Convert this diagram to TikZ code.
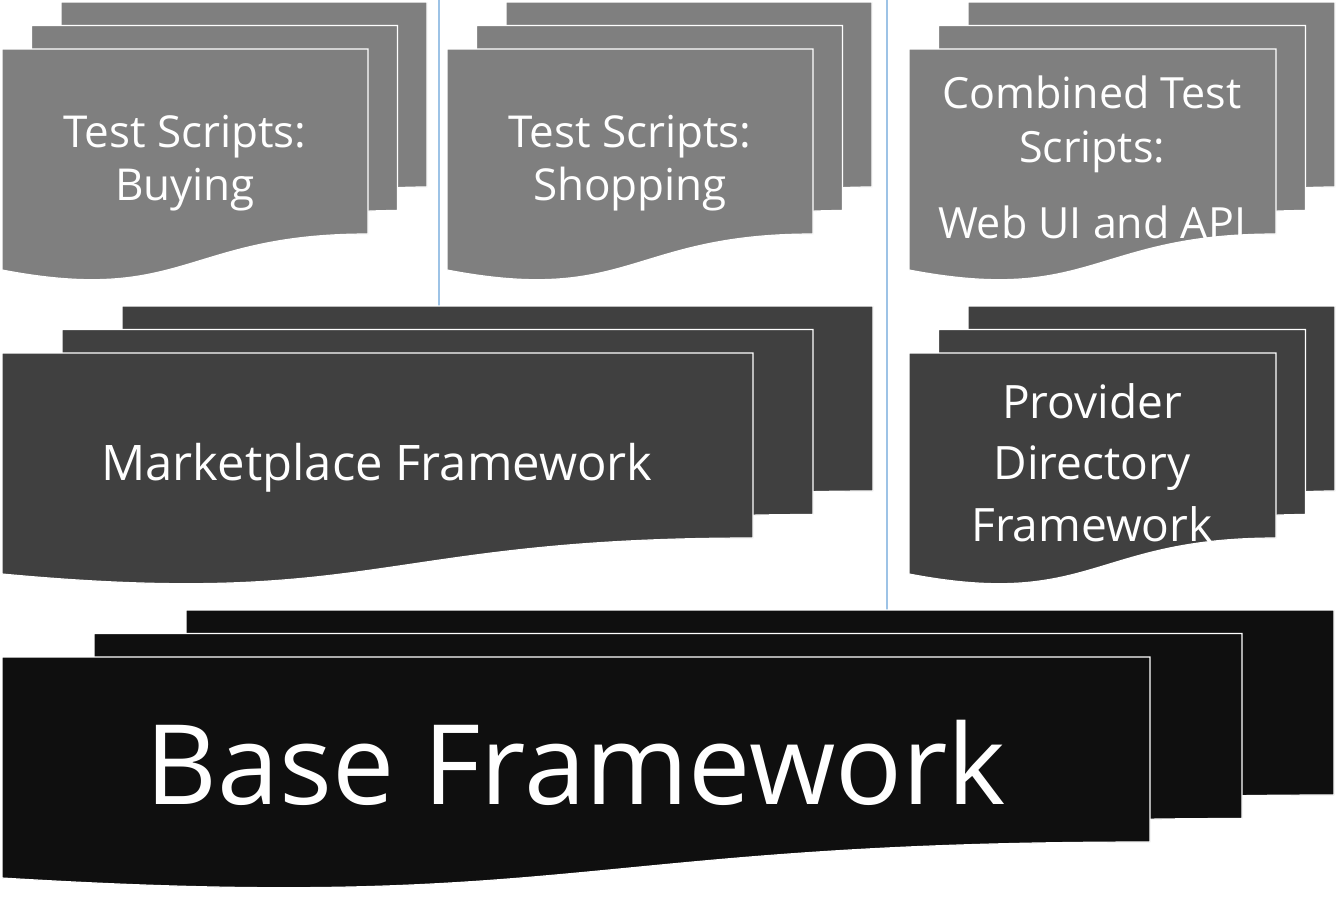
\documentclass[tikz,border=0pt]{standalone}
\usepackage{fontspec}
\setmainfont{Open Sans}
\definecolor{scriptgray}{HTML}{7F7F7F}
\definecolor{framegray}{HTML}{404040}
\definecolor{baseblack}{HTML}{0F0F0F}
\definecolor{guideblue}{RGB}{157,195,230}
\tikzset{
    sheet/.style={draw=white, line width=1.2pt, line join=miter},
    sheetlabel/.style={text=white, align=center, inner sep=0pt, anchor=base},
    guide/.style={guideblue, line width=1.5pt}
}
\begin{document}
\begin{tikzpicture}[x=1pt, y=-1pt]
        \useasboundingbox[fill=white] (0,0) rectangle (1336,919);

        \draw[guide] (439,0) -- (439,306);
        \draw[guide] (887,0) -- (887,610);

        \foreach \gx/\gy/\gw/\gd/\gc in {2/49/366/29.5/scriptgray, 447/49/366/29.5/scriptgray, 909/49/367/29.5/scriptgray, 2/353/751/60/framegray, 909/353/367/29.5/framegray, 2/657/1148/92/baseblack} {
            \foreach \i in {2,1,0} {
                \pgfmathsetmacro\sx{\gx+\gd*\i}
                \pgfmathsetmacro\sy{\gy-23.5*\i}
                \draw[sheet, fill=\gc] (\sx,\sy) -- ++(\gw,0) -- ++(0,185)
                    .. controls (\sx+\gw/2,\sy+185) and (\sx+\gw/2,\sy+256) .. (\sx,\sy+221) -- cycle;
            }
        }

        \node[sheetlabel, font=\fontsize{44}{53}\selectfont] (buying) at (185,200) {Test Scripts:\\Buying};
        \node[sheetlabel, font=\fontsize{44}{53}\selectfont] (shopping) at (630,200) {Test Scripts:\\Shopping};
        \node[sheetlabel, font=\fontsize{43}{54}\selectfont] (combined) at (1092,238) {Combined Test\\Scripts:\\[22pt]Web UI and API};
        \node[sheetlabel, font=\fontsize{49}{59}\selectfont] (marketplace) at (377,480) {Marketplace Framework};
        \node[sheetlabel, font=\fontsize{46}{61.5}\selectfont] (provider) at (1092,541) {Provider\\Directory\\Framework};
        \node[sheetlabel, font=\fontsize{111}{130}\selectfont] (base) at (576,804) {Base Framework};
    \end{tikzpicture}
\end{document}
